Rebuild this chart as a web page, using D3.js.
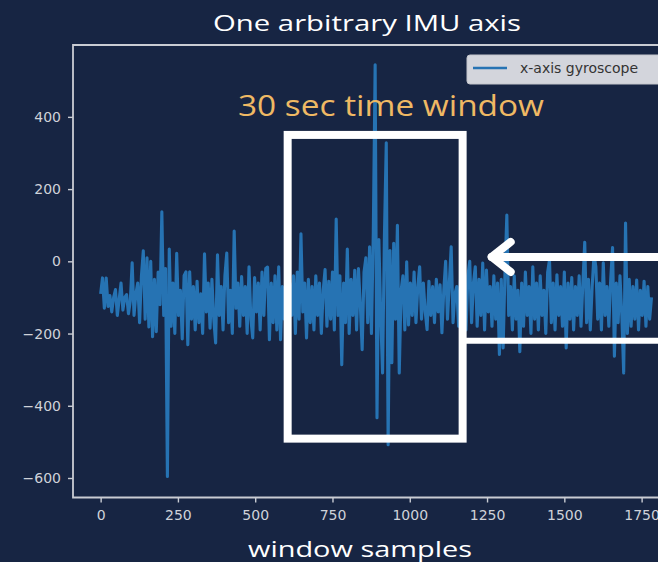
<!DOCTYPE html>
<html>
<head>
<meta charset="utf-8">
<script src="https://cdn.jsdelivr.net/npm/d3@7"></script>
<style>
  html, body { margin: 0; padding: 0; background: #172543; }
  svg { display: block; }
  .tick text { font-family: "DejaVu Sans", sans-serif; font-size: 14px; fill: #cfd2d9; }
  .tick line { stroke: #c9ccd3; stroke-width: 1.4; }
  .domain { display: none; }
</style>
</head>
<body>
<div id="chart"></div>
<script>
// one gyroscope axis, every 6 samples
const sampleStep = 6;
const gyroX = [
  -90, -46, -130, -46, -125, -95, -140, -100, -78, -150,
  -105, -60, -135, -100, -92, -145, -110, -4, -150, -90,
  -60, -170, -40, 29, -160, 10, -182, 0, -209, -50,
  -195, -30, -120, 137, -150, -20, -596, 34, -180, -60,
  -200, 22, -150, -80, -215, -40, -29, -231, -29, -160,
  -70, -190, -55, -170, -90, -200, 21, -140, -60, -185,
  -50, -160, -226, 18, -150, -70, -190, -40, 23, -170,
  -80, -200, 84, -130, -60, -180, -42, -150, -70, -200,
  -15, -160, -212, -45, -140, -60, -190, -30, -150, -20,
  -16, -217, -60, -170, -40, -190, -15, -217, -70, -160,
  -80, -180, -60, -150, -40, -200, -30, -160, 76, -140,
  -60, -212, -50, -170, -70, -190, -40, -150, -60, -200,
  -80, -23, -180, -55, -160, -30, -190, 117, -150, -40,
  -286, -60, -170, 34, -200, -50, -150, -25, -190, -20,
  -120, -245, -30, 10, -170, 40, -200, 78, 544, -433,
  60, -150, -309, 70, 328, -508, 30, -281, 50, -160,
  100, -309, -80, -40, -190, -1, -176, -60, -150, -30,
  -170, -70, -15, -160, -60, -140, -189, -55, -150, -70,
  -170, -50, -140, -65, -198, -80, 0, -160, -60, 40,
  -170, -90, -70, -180, -50, -160, -80, -190, -40, 0,
  -170, -60, -15, -180, -50, -150, -5, -190, -24, -140,
  -70, -180, -40, -160, -60, -258, -50, -240, -30, 128,
  -150, -70, -190, -40, -160, -80, -250, -60, -180, -30,
  -150, -70, -200, -15, -160, -60, -190, -40, -150, -80,
  -200, -30, 4, -170, -60, -190, -37, -150, -70, -180,
  -30, -240, -60, -160, -45, -190, -70, -150, -40, -180,
  -60, 53, -170, -50, -190, -70, 18, -15, -160, -60,
  -190, -4, -150, -70, -180, -50, 38, -263, -60, -170,
  -40, -150, -309, 106, -200, -50, -180, -70, -160, -52,
  -190, -80, -150, -55, -180, -70, -160, -100
];
const xTicks = [0, 250, 500, 750, 1000, 1250, 1500, 1750];
const yTicks = [-600, -400, -200, 0, 200, 400];

// annotation: highlighted window and the arrows pointing at it
const windowSamples = [605, 1171];
const windowValues = [-491, 350];
const arrowTip = [1265, 12];
const lowerLine = [1175, -220];

const width = 658, height = 562;
const xScale = d3.scaleLinear().domain([-89.4, 1877.4]).range([73, 681]);
const yScale = d3.scaleLinear().domain([-654, 599]).range([497.5, 45]);

const svg = d3.select('#chart').append('svg')
    .attr('width', width)
    .attr('height', height);

svg.append('rect')
    .attr('width', width)
    .attr('height', height)
    .attr('fill', '#172543');

// axes
svg.append('g')
    .attr('transform', `translate(0,${yScale.range()[0]})`)
    .call(d3.axisBottom(xScale).tickValues(xTicks).tickSize(5).tickPadding(8)
        .tickFormat(d3.format('d')));

svg.append('g')
    .attr('transform', `translate(${xScale.range()[0]},0)`)
    .call(d3.axisLeft(yScale).tickValues(yTicks).tickSize(5).tickPadding(7)
        .tickFormat(d => d < 0 ? '\u2212' + Math.abs(d) : d));

// spines (left, top, bottom) - right one falls outside the picture
svg.append('path')
    .attr('d', `M${xScale.range()[1]},${yScale.range()[1]}H${xScale.range()[0]}V${yScale.range()[0]}H${xScale.range()[1]}`)
    .attr('fill', 'none')
    .attr('stroke', '#c9ccd3')
    .attr('stroke-width', 1.8);

// signal
const line = d3.line()
    .x((d, i) => xScale(i * sampleStep))
    .y(d => yScale(d));

svg.append('path')
    .datum(gyroX)
    .attr('d', line)
    .attr('fill', 'none')
    .attr('stroke', '#2673b3')
    .attr('stroke-width', 3.1)
    .attr('stroke-linejoin', 'round');

// legend (clipped at the right edge like the original)
const legend = svg.append('g').attr('transform', 'translate(467,55)');
legend.append('rect')
    .attr('width', 230)
    .attr('height', 29)
    .attr('rx', 3)
    .attr('fill', '#d3d5dc')
    .attr('stroke', '#c4c6cc');
legend.append('line')
    .attr('x1', 6).attr('x2', 40)
    .attr('y1', 13).attr('y2', 13)
    .attr('stroke', '#2673b3')
    .attr('stroke-width', 2.7);
legend.append('text')
    .attr('x', 53)
    .attr('y', 18)
    .attr('font-family', 'DejaVu Sans, sans-serif')
    .attr('font-size', 14)
    .attr('fill', '#333')
    .text('x-axis gyroscope');

// annotations
svg.append('rect')
    .attr('x', xScale(windowSamples[0]))
    .attr('y', yScale(windowValues[1]))
    .attr('width', xScale(windowSamples[1]) - xScale(windowSamples[0]))
    .attr('height', yScale(windowValues[0]) - yScale(windowValues[1]))
    .attr('fill', 'none')
    .attr('stroke', '#fff')
    .attr('stroke-width', 8);

const tipX = xScale(arrowTip[0]), tipY = yScale(arrowTip[1]);
svg.append('line')
    .attr('x1', tipX).attr('y1', tipY)
    .attr('x2', width + 10).attr('y2', tipY)
    .attr('stroke', '#fff')
    .attr('stroke-width', 8)
    .attr('stroke-linecap', 'round');
svg.append('path')
    .attr('d', `M${tipX + 19},${tipY - 15}L${tipX},${tipY}L${tipX + 19},${tipY + 15}`)
    .attr('fill', 'none')
    .attr('stroke', '#fff')
    .attr('stroke-width', 8)
    .attr('stroke-linecap', 'round')
    .attr('stroke-linejoin', 'round');

svg.append('line')
    .attr('x1', xScale(lowerLine[0])).attr('y1', yScale(lowerLine[1]))
    .attr('x2', width + 10).attr('y2', yScale(lowerLine[1]))
    .attr('stroke', '#fff')
    .attr('stroke-width', 6);

// texts
svg.append('text')
    .attr('x', 367)
    .attr('y', 31)
    .attr('text-anchor', 'middle')
    .attr('font-family', 'Open Sans, sans-serif')
    .attr('font-size', 22)
    .attr('font-weight', 500)
    .attr('fill', '#fff')
    .attr('textLength', 308)
    .attr('lengthAdjust', 'spacingAndGlyphs')
    .text('One arbitrary IMU axis');

svg.append('text')
    .attr('x', 391)
    .attr('y', 116)
    .attr('text-anchor', 'middle')
    .attr('font-family', 'Open Sans, sans-serif')
    .attr('font-size', 29)
    .attr('fill', '#efb964')
    .attr('textLength', 306)
    .attr('lengthAdjust', 'spacingAndGlyphs')
    .text('30 sec time window');

svg.append('text')
    .attr('x', 360)
    .attr('y', 557)
    .attr('text-anchor', 'middle')
    .attr('font-family', 'Open Sans, sans-serif')
    .attr('font-size', 22)
    .attr('fill', '#fff')
    .attr('textLength', 224)
    .attr('lengthAdjust', 'spacingAndGlyphs')
    .text('window samples');
</script>
</body>
</html>
